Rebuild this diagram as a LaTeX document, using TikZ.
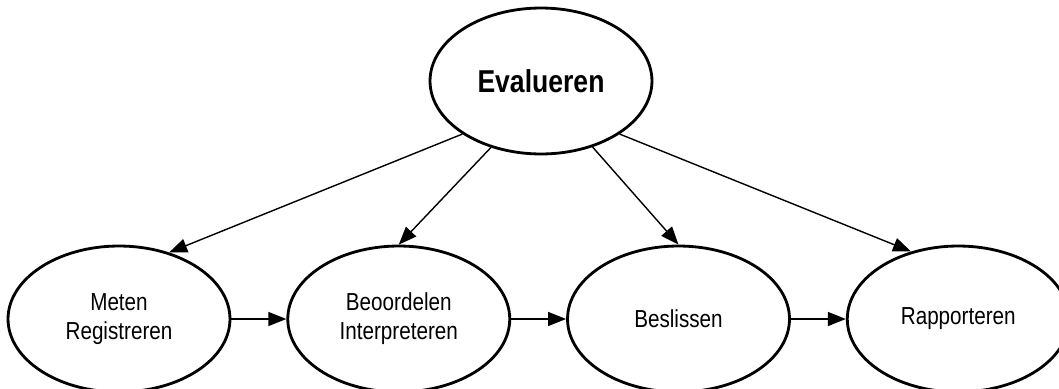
\documentclass[tikz,border=0pt]{standalone}
\usepackage{fontspec}
\setmainfont{Liberation Sans}
\newfontfamily\narrowsans[FakeStretch=0.84]{Liberation Sans}
\usetikzlibrary{positioning,shapes.geometric,arrows.meta}
\tikzset{
  stage/.style={ellipse, draw, line width=1.6pt, minimum width=4.44cm, minimum height=2.92cm,
    inner sep=0pt, align=center, font=\narrowsans\fontsize{14}{16.5}\selectfont},
  flow/.style={-{Triangle[length=0.36cm,width=0.28cm]}, line width=0.8pt},
}

\begin{document}
\begin{tikzpicture}[x=0.02cm, y=0.02cm, node distance=1.1cm]
  \useasboundingbox (0,0) rectangle (1059,-389);

  \node [stage, font=\narrowsans\bfseries\fontsize{18}{21}\selectfont] (eval) at (541,-81) {Evalueren};

  \node [stage] (meten) at (119,-319) {Meten\\Registreren};
  \node [stage, right=of meten] (beoord) {Beoordelen\\Interpreteren};
  \node [stage, right=of beoord] (beslis) {Beslissen};
  \node [stage, right=of beslis] (rapport) {Rapporteren};

  \draw [flow] (eval.214) -- (meten.53);
  \draw [flow] (eval.233) -- (beoord.90);
  \draw [flow] (eval.308) -- (beslis.90);
  \draw [flow] (eval.326) -- (rapport.125);

  \draw [flow] (meten) -- (beoord);
  \draw [flow] (beoord) -- (beslis);
  \draw [flow] (beslis) -- (rapport);

\end{tikzpicture}
\end{document}
